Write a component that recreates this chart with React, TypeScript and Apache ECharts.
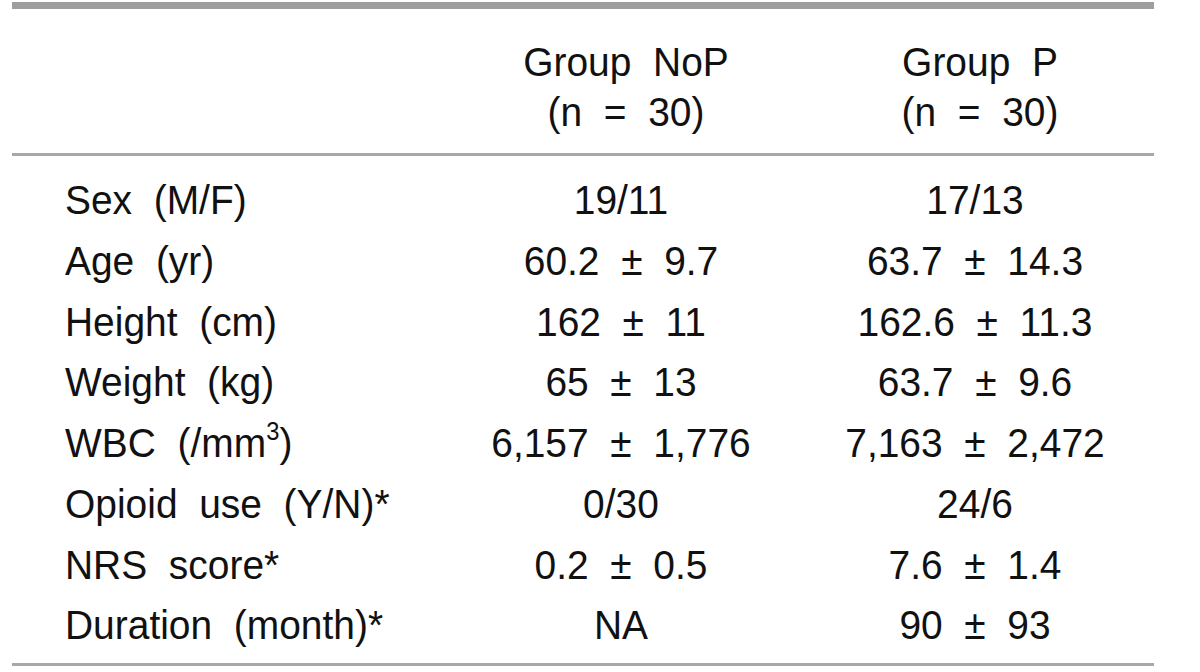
import React, { useEffect, useRef } from "react";
import * as echarts from "echarts";

const headerTitles = ["Group  NoP", "Group  P"];
const headerCounts = ["(n  =  30)", "(n  =  30)"];
const rowLabels = [
  "Sex  (M/F)",
  "Age  (yr)",
  "Height  (cm)",
  "Weight  (kg)",
  "WBC  (/mm³)",
  "Opioid  use  (Y/N)*",
  "NRS  score*",
  "Duration  (month)*",
];
const groupNoP = [
  "19/11",
  "60.2  ±  9.7",
  "162  ±  11",
  "65  ±  13",
  "6,157  ±  1,776",
  "0/30",
  "0.2  ±  0.5",
  "NA",
];
const groupP = [
  "17/13",
  "63.7  ±  14.3",
  "162.6  ±  11.3",
  "63.7  ±  9.6",
  "7,163  ±  2,472",
  "24/6",
  "7.6  ±  1.4",
  "90  ±  93",
];

const FONT = "'Liberation Sans', Arial, sans-serif";
const FS = 41;
const SX = 0.95;
const TEXT_COLOR = "#111111";

function labelText(s: string, x: number, y: number, align: string): any {
  if (s.includes("³")) {
    const parts = s.split("³");
    return {
      type: "text",
      x,
      y,
      scaleX: SX,
      style: {
        text: `{a|${parts[0]}}{s|3}{a|${parts[1]}}`,
        font: `${FS}px ${FONT}`,
        fill: TEXT_COLOR,
        align,
        verticalAlign: "middle",
        rich: {
          a: { fontSize: FS, fontFamily: FONT, fill: TEXT_COLOR, lineHeight: 48 },
          s: {
            fontSize: 25,
            fontFamily: FONT,
            fill: TEXT_COLOR,
            lineHeight: 48,
            verticalAlign: "top",
          },
        },
      },
    };
  }
  return {
    type: "text",
    x,
    y,
    scaleX: SX,
    style: {
      text: s,
      font: `${FS}px ${FONT}`,
      fontSize: FS,
      fontFamily: FONT,
      fill: TEXT_COLOR,
      align,
      verticalAlign: "middle",
    },
  };
}

export default function App() {
  const ref = useRef<HTMLDivElement>(null);
  useEffect(() => {
    if (!ref.current) return;
    const chart = echarts.init(ref.current, null, { renderer: "svg" });
    const leftX = 65;
    const col1 = 621;
    const col2 = 975;
    const rowStart = 200;
    const rowStep = 60.7;
    const lineX1 = 12;
    const lineX2 = 1154;

    const elements: any[] = [];
    elements.push({
      type: "rect",
      shape: { x: lineX1, y: 2, width: lineX2 - lineX1, height: 7 },
      style: { fill: "#9e9e9e" },
    });
    elements.push({
      type: "rect",
      shape: { x: lineX1, y: 153, width: lineX2 - lineX1, height: 3 },
      style: { fill: "#a8a8a8" },
    });
    elements.push({
      type: "rect",
      shape: { x: lineX1, y: 663, width: lineX2 - lineX1, height: 3 },
      style: { fill: "#a8a8a8" },
    });
    [col1, col2].forEach((cx, i) => {
      elements.push(labelText(headerTitles[i], cx + 5, 62, "center"));
      elements.push(labelText(headerCounts[i], cx + 5, 112, "center"));
    });
    rowLabels.forEach((lab, i) => {
      const y = rowStart + i * rowStep;
      elements.push(labelText(lab, leftX, y, "left"));
      elements.push(labelText(groupNoP[i], col1, y, "center"));
      elements.push(labelText(groupP[i], col2, y, "center"));
    });

    chart.setOption({
      animation: false,
      backgroundColor: "#ffffff",
      graphic: { elements },
    });
    return () => chart.dispose();
  }, []);
  return (
    <div
      ref={ref}
      style={{ position: "absolute", left: 0, top: 0, width: 1200, height: 672 }}
    />
  );
}
